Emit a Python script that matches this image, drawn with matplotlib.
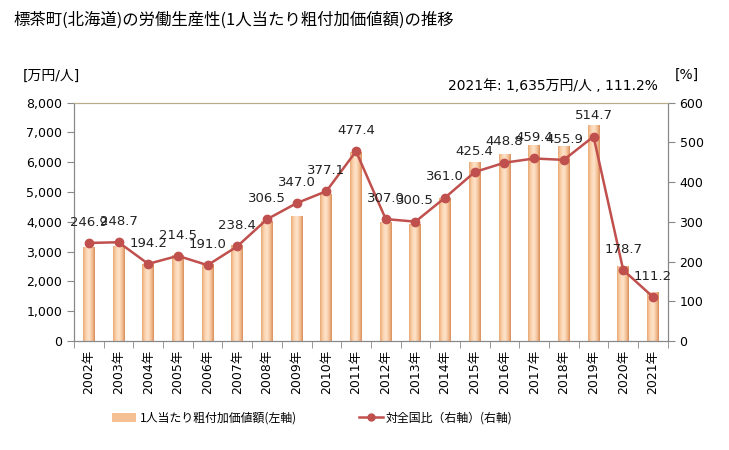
import matplotlib.pyplot as plt
import numpy as np
from matplotlib.patches import Patch
from matplotlib.lines import Line2D
from matplotlib.colors import LinearSegmentedColormap

plt.rcParams['font.family'] = ['DejaVu Sans', 'Noto Sans CJK JP']

# data
years = ['2002年', '2003年', '2004年', '2005年', '2006年', '2007年', '2008年', '2009年',
         '2010年', '2011年', '2012年', '2013年', '2014年', '2015年', '2016年', '2017年',
         '2018年', '2019年', '2020年', '2021年']
value_per_person = [3155, 3190, 2570, 2900, 2590, 3230, 4030, 4200, 4935, 6355,
                    4000, 3930, 4800, 6000, 6270, 6570, 6540, 7250, 2505, 1635]
ratio_national = [246.9, 248.7, 194.2, 214.5, 191.0, 238.4, 306.5, 347.0, 377.1, 477.4,
                  307.0, 300.5, 361.0, 425.4, 448.8, 459.4, 455.9, 514.7, 178.7, 111.2]

jp = ['Noto Sans CJK JP', 'DejaVu Sans']
mixed = ['DejaVu Sans', 'Noto Sans CJK JP']
line_color = '#c0504d'

fig = plt.figure(figsize=(7.29, 4.5), dpi=100)
ax = fig.add_axes([0.1015, 0.242, 0.8145, 0.530])
ax2 = ax.twinx()

# gradient bars
grad = LinearSegmentedColormap.from_list('bar', ['#e9a877', '#fbd3ad', '#fde4cc', '#f6c59b', '#d98f5c'])
gimg = np.linspace(0, 1, 64).reshape(1, -1)
x = np.arange(len(years))
w = 0.4
bars = ax.bar(x, value_per_person, width=w, color='none', edgecolor='none', zorder=2)
for b in bars:
    im = ax.imshow(gimg, cmap=grad, aspect='auto', zorder=2,
                   extent=(b.get_x(), b.get_x() + b.get_width(), 0, b.get_height()))
    im.set_clip_path(b)

ax.set_xlim(-0.5, len(years) - 0.5)
ax.set_ylim(0, 8000)
ax.set_yticks(range(0, 8001, 1000))
ax.set_yticklabels([f'{v:,}' for v in range(0, 8001, 1000)], fontsize=9)
ax.set_xticks(x)
ax.set_xticklabels(years, rotation=90, fontsize=9, family=mixed)
ax.set_xticks(np.arange(-0.5, len(years), 1), minor=True)
ax.tick_params(axis='x', which='major', length=0, pad=6)
ax.tick_params(axis='x', which='minor', length=5, color='#888888')
ax.tick_params(axis='y', length=5, color='#888888')

ax2.plot(x, ratio_national, color=line_color, lw=1.8, marker='o', ms=6, zorder=3)
for xi, v in zip(x, ratio_national):
    ax2.annotate(f'{v:.1f}', (xi, v), xytext=(0, 15), textcoords='offset points',
                 ha='center', va='center', fontsize=9.5, color='#222222')
ax2.set_ylim(0, 600)
ax2.set_yticks(range(0, 601, 100))
ax2.tick_params(axis='y', labelsize=9, length=5, color='#888888')

for a in (ax, ax2):
    a.spines['top'].set_color('#b8ad88')
    a.spines['left'].set_color('#888888')
    a.spines['right'].set_color('#888888')
    a.spines['bottom'].set_color('#888888')

fig.text(0.019, 0.955, '標茶町(北海道)の労働生産性(1人当たり粗付加価値額)の推移',
         fontsize=11.8, family=jp, va='center')
fig.text(0.031, 0.832, '[万円/人]', fontsize=10, family=mixed, va='center')
fig.text(0.926, 0.834, '[%]', fontsize=10, family=mixed, va='center')
fig.text(0.902, 0.809, '2021年: 1,635万円/人 , 111.2%', fontsize=10, family=mixed,
         va='center', ha='right')

leg_y = 1 - 418 / 450
leg1 = fig.legend([Patch(facecolor='#f5c094', edgecolor='none')], ['1人当たり粗付加価値額(左軸)'],
                  loc='center left', bbox_to_anchor=(112 / 729, leg_y), frameon=False,
                  borderpad=0, borderaxespad=0, prop={'family': jp, 'size': 8.6},
                  handlelength=2.0, handletextpad=0.3)
leg2 = fig.legend([Line2D([0], [0], color=line_color, lw=1.8, marker='o', ms=5)],
                  ['対全国比（右軸）(右軸)'],
                  loc='center left', bbox_to_anchor=(359 / 729, leg_y), frameon=False,
                  borderpad=0, borderaxespad=0, prop={'family': jp, 'size': 8.6},
                  handlelength=2.0, handletextpad=0.2)

fig.savefig('out.png', dpi=100)
